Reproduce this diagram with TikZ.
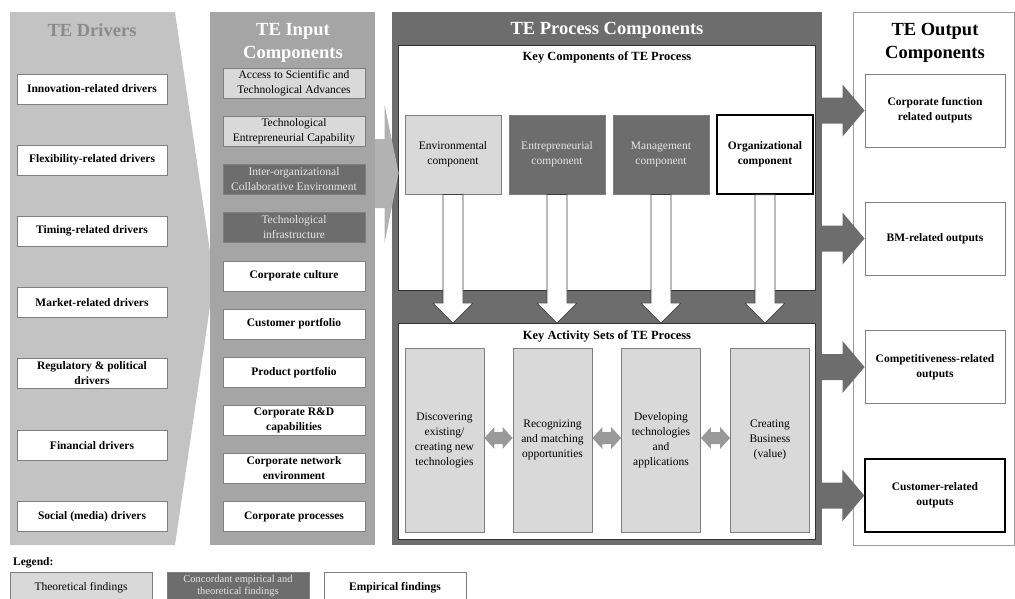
\documentclass[tikz,border=0pt]{standalone}
\usepackage{fontspec}
\setmainfont{Liberation Serif}
\usetikzlibrary{calc}
\definecolor{lightg}{HTML}{D9D9D9}
\definecolor{darkg}{HTML}{6D6D6D}
\definecolor{drvg}{HTML}{C3C3C3}
\definecolor{inpg}{HTML}{A5A5A5}
\definecolor{bordg}{HTML}{7F7F7F}
\definecolor{darktext}{HTML}{E6E6E6}
\definecolor{dblg}{HTML}{999999}
\definecolor{arrg}{HTML}{B2B2B2}
\definecolor{drvtitle}{HTML}{8A8A8A}
\definecolor{outbord}{HTML}{9A9A9A}
\begin{document}
\begin{tikzpicture}[x=1pt,y=-1pt,
  txt/.style={font=\fontsize{11.5}{15}\selectfont},
  btxt/.style={font=\bfseries\fontsize{11.5}{15}\selectfont},
  subttl/.style={font=\bfseries\fontsize{12.5}{15}\selectfont},
  ttl/.style={font=\bfseries\fontsize{18.5}{23.5}\selectfont, align=center, inner sep=0pt},
  box/.style={draw=bordg, line width=0.9pt, align=center, inner sep=1pt},
  drvbox/.style={box, btxt, fill=white, minimum width=150, minimum height=30},
  inbox/.style={box, minimum width=142, minimum height=30},
  theo/.style={fill=lightg, txt},
  conc/.style={fill=darkg, text=darktext, txt},
  empi/.style={fill=white, btxt},
  compbox/.style={box, minimum width=96, minimum height=79},
  actbox/.style={box, theo, minimum width=79, minimum height=184},
  outbox/.style={box, btxt, fill=white, minimum width=140, minimum height=73},
  strong/.style={draw=black, line width=1.5pt},
  warrow/.style={fill=white, draw=black!75, line width=0.7pt},
  darrow/.style={fill=dblg},
  oarrow/.style={fill=darkg},
  panel/.style={draw=none, minimum width=#1, minimum height=533, inner sep=0pt}
]
\useasboundingbox (0,0) rectangle (1015,598);
\fill[white] (0,0) rectangle (1015,598);

% ---------- TE Drivers ----------
\fill[drvg] (10,12) -- (175,12) -- (214,279) -- (175,545) -- (10,545) -- cycle;
\node[ttl, text=drvtitle] (drvt) at (92,30.5) {TE Drivers};
\node[drvbox] (d1) at (92,89) {Innovation-related drivers};
\node[drvbox] (d2) at (92,160) {Flexibility-related drivers};
\node[drvbox] (d3) at (92,231) {Timing-related drivers};
\node[drvbox] (d4) at (92,302.5) {Market-related drivers};
\node[drvbox] (d5) at (92,373.5) {Regulatory \& political\\drivers};
\node[drvbox] (d6) at (92,445.5) {Financial drivers};
\node[drvbox] (d7) at (92,516.5) {Social (media) drivers};

% ---------- TE Input ----------
\node[panel=165, fill=inpg] (inp) at (292.5,278.5) {};
\node[ttl, text=white] (inpt) at (293,43) {TE Input\\Components};
\node[inbox, theo] (i1) at (294,83) {Access to Scientific and\\Technological Advances};
\node[inbox, theo] (i2) at (294,131.5) {Technological\\Entrepreneurial Capability};
\node[inbox, conc] (i3) at (294,179) {Inter-organizational\\Collaborative Environment};
\node[inbox, conc] (i4) at (294,227.5) {Technological\\infrastructure};
\node[inbox, empi] (i5) at (294,276) {Corporate culture};
\node[inbox, empi] (i6) at (294,324) {Customer portfolio};
\node[inbox, empi] (i7) at (294,372.5) {Product portfolio};
\node[inbox, empi] (i8) at (294,420.5) {Corporate R\&D\\capabilities};
\node[inbox, empi] (i9) at (294,468.5) {Corporate network\\environment};
\node[inbox, empi] (i10) at (294,516.5) {Corporate processes};

% ---------- TE Process ----------
\node[panel=430, fill=darkg] (proc) at (607,278.5) {};
\node[ttl, text=white] (proct) at (607,30.5) {TE Process Components};
\node[draw=black!80, fill=white, line width=0.8pt, minimum width=417, minimum height=245, inner sep=0pt] (kc) at (606.5,167.5) {};
\node[subttl] (kct) at (607,57) {Key Components of TE Process};
\node[draw=black!80, fill=white, line width=0.8pt, minimum width=417, minimum height=216, inner sep=0pt] (ka) at (606.5,431.5) {};
\node[subttl] (kat) at (607,336) {Key Activity Sets of TE Process};

\node[compbox, theo] (c1) at (453,154.5) {Environmental\\component};
\node[compbox, conc] (c2) at (557,154.5) {Entrepreneurial\\component};
\node[compbox, conc] (c3) at (661,154.5) {Management\\component};
\node[compbox, empi, strong] (c4) at (765,154.5) {Organizational\\component};

\node[actbox] (a1) at (444.5,440) {Discovering\\existing/\\creating new\\technologies};
\node[actbox] (a2) at (552.5,440) {Recognizing\\and matching\\opportunities};
\node[actbox] (a3) at (661,440) {Developing\\technologies\\and\\applications};
\node[actbox] (a4) at (770,440) {Creating\\Business\\(value)};

% white down arrows
\foreach \c in {c1,c2,c3,c4}{
  \path (\c.south) coordinate (s) (s |- ka.north) coordinate (t);
  \draw[warrow] ($(s)+(-10,0)$) -- ($(t)+(-10,-20)$) -- ($(t)+(-20,-20)$) -- (t)
     -- ($(t)+(20,-20)$) -- ($(t)+(10,-20)$) -- ($(s)+(10,0)$) -- cycle;
}
% double arrows
\foreach \p/\q in {a1/a2,a2/a3,a3/a4}{
  \path ($(\p.east)+(0,-2)$) coordinate (l) (\q.west |- l) coordinate (r);
  \fill[darrow] (l) -- ($(l)+(10,-11)$) -- ($(l)+(10,-6)$) -- ($(r)+(-10,-6)$) -- ($(r)+(-10,-11)$)
     -- (r) -- ($(r)+(-10,11)$) -- ($(r)+(-10,6)$) -- ($(l)+(10,6)$) -- ($(l)+(10,11)$) -- cycle;
}

% input -> process arrow
\path (inp.east |- 0,173) coordinate (ia) (kc.west |- ia) coordinate (ib);
\fill[arrg] ($(ia)+(0,-34)$) -- ($(ib)+(-13,-34)$) -- ($(ib)+(-13,-68)$) -- ($(ib)+(1,0)$)
  -- ($(ib)+(-13,70)$) -- ($(ib)+(-13,35)$) -- ($(ia)+(0,35)$) -- cycle;

% ---------- TE Output ----------
\node[panel=161, draw=outbord, fill=white, line width=0.8pt] (outp) at (934,278.5) {};
\node[ttl, text=black] (outt) at (935,43) {TE Output\\Components};
\node[outbox] (o1) at (935,110.5) {Corporate function\\related outputs};
\node[outbox] (o2) at (935,238.5) {BM-related outputs};
\node[outbox] (o3) at (935,367) {Competitiveness-related\\outputs};
\node[outbox, strong] (o4) at (935,495.5) {Customer-related\\outputs};

\foreach \o in {o1,o2,o3,o4}{
  \path (proc.east |- \o.west) coordinate (l) (\o.west) coordinate (r);
  \fill[oarrow] ($(l)+(0,-13)$) -- ($(r)+(-22,-13)$) -- ($(r)+(-22,-26)$) -- (r)
    -- ($(r)+(-22,26)$) -- ($(r)+(-22,13)$) -- ($(l)+(0,13)$) -- cycle;
}

% ---------- Legend ----------
\node[anchor=west, inner sep=0pt, font=\bfseries\fontsize{11.5}{13}\selectfont] (leg) at (13,563) {Legend:};
\node[box, theo, minimum width=142, minimum height=32] (l1) at (81,588) {Theoretical findings};
\node[box, minimum width=142, minimum height=32, fill=darkg] (l2) at (238,588) {};
\node[text=darktext, align=center, inner sep=0pt, font=\fontsize{10.5}{12}\selectfont] (l2t) at (238,585.5) {Concordant empirical and\\theoretical findings};
\node[box, empi, minimum width=142, minimum height=32] (l3) at (395,588) {Empirical findings};
\end{tikzpicture}
\end{document}
